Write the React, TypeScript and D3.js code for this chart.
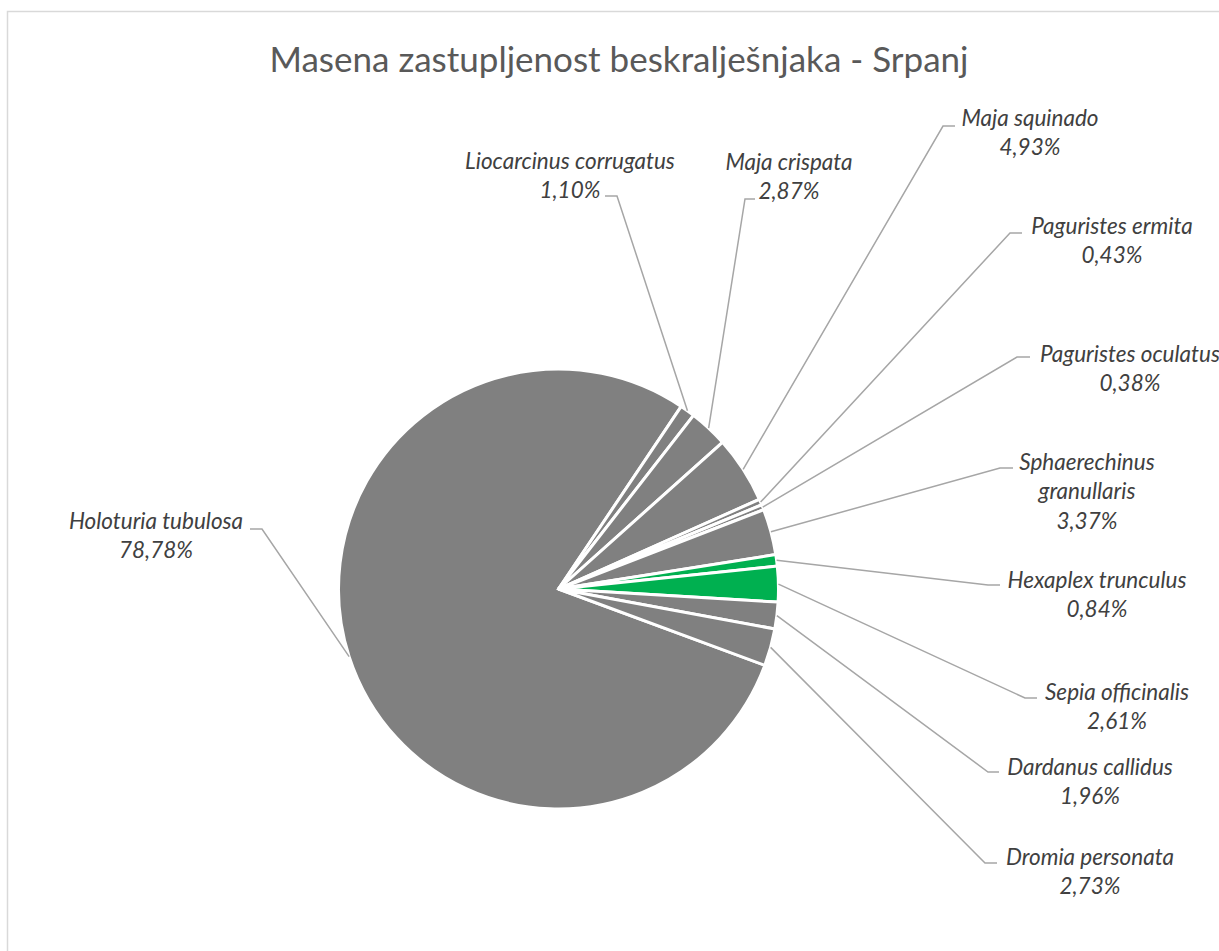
import React from "react";
import * as d3 from "d3";

const categories = [
  "Holoturia tubulosa",
  "Liocarcinus corrugatus",
  "Maja crispata",
  "Maja squinado",
  "Paguristes ermita",
  "Paguristes oculatus",
  "Sphaerechinus granullaris",
  "Hexaplex trunculus",
  "Sepia officinalis",
  "Dardanus callidus",
  "Dromia personata",
];
const values = [78.78, 1.1, 2.87, 4.93, 0.43, 0.38, 3.37, 0.84, 2.61, 1.96, 2.73];
const labelNameLines = [
  ["Holoturia tubulosa"],
  ["Liocarcinus corrugatus"],
  ["Maja crispata"],
  ["Maja squinado"],
  ["Paguristes ermita"],
  ["Paguristes oculatus"],
  ["Sphaerechinus", "granullaris"],
  ["Hexaplex trunculus"],
  ["Sepia officinalis"],
  ["Dardanus callidus"],
  ["Dromia personata"],
];
const highlighted = ["Hexaplex trunculus", "Sepia officinalis"];
const title = "Masena zastupljenost beskralješnjaka - Srpanj";

// layout (label placement, as manually placed in the original)
const labelLayout = [
  { cx: 156, y0: 521, bend: [262, 529], end: [250, 529] },
  { cx: 570, y0: 161, bend: [617, 196], end: [605, 196] },
  { cx: 789, y0: 162, bend: [745, 199], end: [755, 199] },
  { cx: 1030, y0: 118, bend: [943, 126], end: [955, 126] },
  { cx: 1112, y0: 226, bend: [1010, 233], end: [1022, 233] },
  { cx: 1130, y0: 354, bend: [1017, 357], end: [1030, 357] },
  { cx: 1087, y0: 462, bend: [1000, 468], end: [1013, 468] },
  { cx: 1097, y0: 580, bend: [988, 585], end: [1000, 585] },
  { cx: 1117, y0: 692, bend: [1025, 698], end: [1037, 698] },
  { cx: 1090, y0: 767, bend: [988, 772], end: [999, 772] },
  { cx: 1090, y0: 857, bend: [985, 863], end: [997, 863] },
];

const W = 1219;
const H = 951;
const CX = 558.5;
const CY = 589;
const R = 220;
const START = (110.3 * Math.PI) / 180;
const LINE_H = 29.5;

const fmt = (v: number) => v.toFixed(2).replace(".", ",") + "%";

export default function App() {
  const data = categories.map((c, i) => ({ name: c, value: values[i], i }));
  const pie = d3
    .pie<any>()
    .sort(null)
    .value((d: any) => d.value)
    .startAngle(START)
    .endAngle(START + 2 * Math.PI);
  const arcs = pie(data);
  const arc = d3.arc<any>().innerRadius(0).outerRadius(R);
  const color = (name: string) => (highlighted.includes(name) ? "#00b050" : "#808080");

  return (
    <div style={{ position: "absolute", left: 0, top: 0 }}>
      <svg width={W} height={H} style={{ display: "block" }}>
        <rect x={0} y={0} width={W} height={H} fill="#ffffff" />
        <rect x={7.5} y={11.5} width={W + 20} height={H + 20} fill="#ffffff" stroke="#d9d9d9" strokeWidth={1.5} />
        <text
          x={619}
          y={72}
          textAnchor="middle"
          fill="#595959"
          style={{ fontFamily: "Lato, 'Open Sans', sans-serif", fontSize: 35 }}
        >
          {title}
        </text>
        <g transform={`translate(${CX},${CY})`}>
          {arcs.map((a, k) => (
            <path
              key={k}
              d={arc(a) as string}
              fill={color(a.data.name)}
              stroke="#ffffff"
              strokeWidth={3}
              strokeLinejoin="miter"
            />
          ))}
        </g>
        {arcs.map((a, k) => {
          const mid = (a.startAngle + a.endAngle) / 2;
          const sx = CX + R * Math.sin(mid);
          const sy = CY - R * Math.cos(mid);
          const L = labelLayout[k];
          const pts = [[sx, sy], L.bend, L.end];
          const line = d3.line()(pts as [number, number][]) as string;
          return <path key={"l" + k} d={line} fill="none" stroke="#a6a6a6" strokeWidth={1.5} />;
        })}
        {arcs.map((a, k) => {
          const L = labelLayout[k];
          const lines = [...labelNameLines[k], fmt(a.data.value)];
          return (
            <text
              key={"t" + k}
              textAnchor="middle"
              fill="#404040"
              style={{ fontFamily: "Lato, 'Open Sans', sans-serif", fontSize: 22.5, fontStyle: "italic" }}
            >
              {lines.map((ln, j) => (
                <tspan key={j} x={L.cx} y={L.y0 + j * LINE_H} dy="0.35em">
                  {ln}
                </tspan>
              ))}
            </text>
          );
        })}
      </svg>
    </div>
  );
}
